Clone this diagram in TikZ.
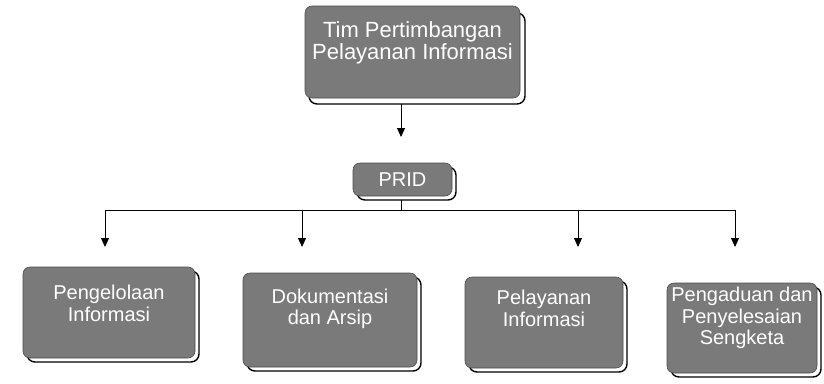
\documentclass[tikz,border=0pt]{standalone}
\usepackage{fontspec}
\setmainfont{Liberation Sans}
\usetikzlibrary{arrows.meta}
\newcommand{\liftlines}[2]{\raisebox{#1}[0pt][0pt]{\begin{tabular}{@{}c@{}}#2\end{tabular}}}
\begin{document}
\begin{tikzpicture}[x=1pt,y=-1pt,
  box/.style={draw=black!70,line width=0.6pt,fill=black!52,rounded corners=7pt,
    text=white,align=center,inner sep=2pt,
    font=\fontsize{20}{21.5}\selectfont},
  bigtext/.style={font=\fontsize{22}{21}\selectfont},
  shade/.style={draw=black,line width=1.4pt,fill=white,rounded corners=8pt},
  conn/.style={draw=black,line width=1pt},
  arr/.style={conn,-{Triangle[width=8pt,length=9pt]}}]
\useasboundingbox (0,0) rectangle (824,383);
% shadows
\draw[shade] (309,13) rectangle (525,104);
\draw[shade] (357,167) rectangle (456,200);
\draw[shade] (27,271) rectangle (199,362);
\draw[shade] (247,277) rectangle (421,371);
\draw[shade] (469,281) rectangle (627,372);
\draw[shade] (671,287) rectangle (821,377);
% boxes
\node[box,bigtext,minimum width=215pt,minimum height=92pt] (top) at (412.5,52)
  {\liftlines{3pt}{Tim Pertimbangan\\Pelayanan Informasi}};
\node[box,minimum width=99pt,minimum height=33pt] (prid) at (402.5,179.5) {PRID};
\node[box,minimum width=172pt,minimum height=91pt] (b1) at (109,312.5)
  {\liftlines{1pt}{Pengelolaan\\Informasi}};
\node[box,minimum width=174pt,minimum height=94pt] (b2) at (330,320)
  {\liftlines{5pt}{Dokumentasi\\dan Arsip}};
\node[box,minimum width=158pt,minimum height=91pt] (b3) at (544,322.5)
  {\liftlines{6pt}{Pelayanan\\Informasi}};
\node[box,minimum width=150pt,minimum height=90pt] (b4) at (742,328)
  {\liftlines{4pt}{Pengaduan dan\\Penyelesaian\\Sengketa}};
% connector points
\coordinate (t1) at (401,104);
\coordinate (t2) at (401,137);
\coordinate (p1) at (401,200);
\coordinate (h) at (401,210);
\coordinate (e1) at (105,247);
\coordinate (e2) at (302,247);
\coordinate (e3) at (578,247);
\coordinate (e4) at (735,247);
\draw[arr] (t1) -- (t2);
\draw[conn] (p1) -- (h);
\draw[conn] (e1 |- h) -- (e4 |- h);
\draw[arr] (e1 |- h) -- (e1);
\draw[arr] (e2 |- h) -- (e2);
\draw[arr] (e3 |- h) -- (e3);
\draw[arr] (e4 |- h) -- (e4);
\end{tikzpicture}
\end{document}
